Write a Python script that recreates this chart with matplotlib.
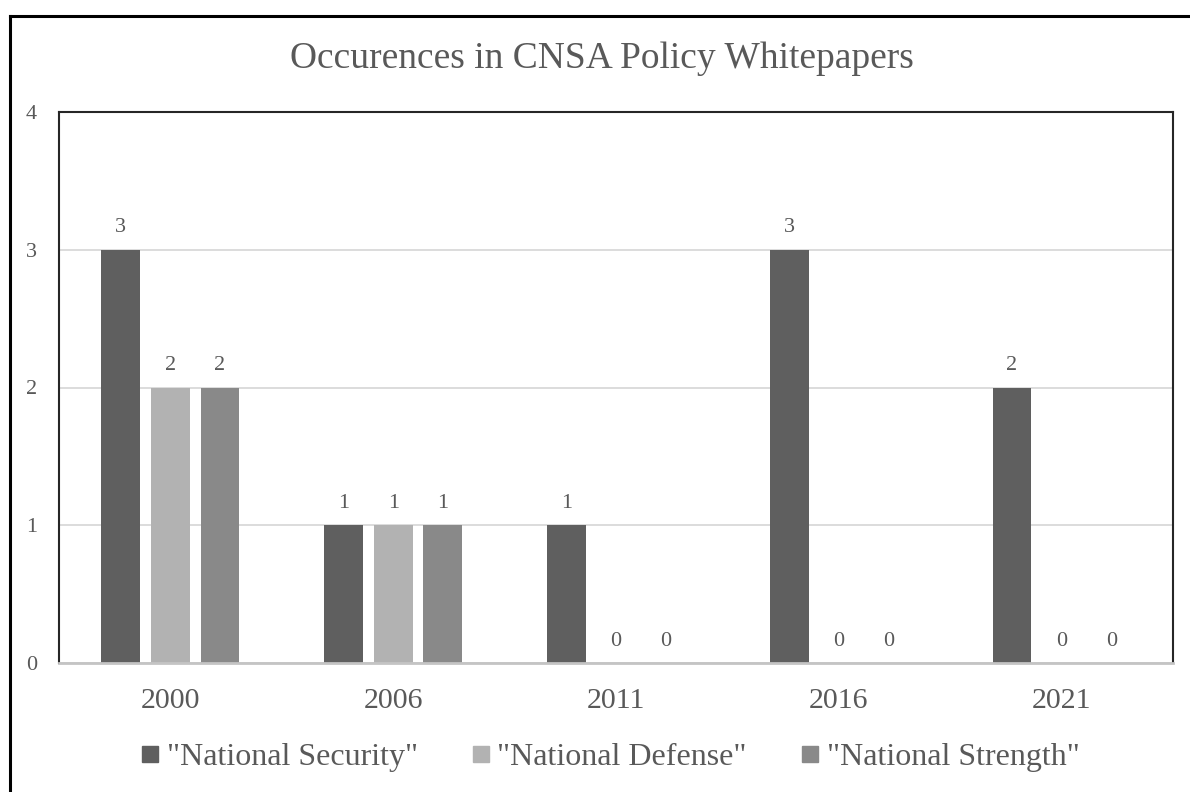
import numpy as np
import matplotlib
matplotlib.use("Agg")
import matplotlib.pyplot as plt
from matplotlib.lines import Line2D

years = ["2000", "2006", "2011", "2016", "2021"]
series_names = ['"National Security"', '"National Defense"', '"National Strength"']
security = [3, 1, 1, 3, 2]
defense = [2, 1, 0, 0, 0]
strength = [2, 1, 0, 0, 0]
colors = ["#5f5f5f", "#b2b2b2", "#898989"]

plt.rcParams["font.family"] = ["Liberation Serif", "DejaVu Serif"]
txt = "#595959"

fig = plt.figure(figsize=(11.9, 7.92), dpi=100)
ax = fig.add_axes([59 / 1190, 1 - 663 / 792, (1173 - 59) / 1190, (663 - 112) / 792])

x = np.arange(len(years))
w = 0.175
step = 0.2226
for k, vals in enumerate([security, defense, strength]):
    bars = ax.bar(x + (k - 1) * step, vals, w, color=colors[k], zorder=3)
    ax.bar_label(bars, padding=9, fontsize=16, color=txt)

ax.set_xlim(-0.5, len(years) - 0.5)
ax.set_ylim(0, 4)
ax.set_yticks([0, 1, 2, 3, 4])
ax.set_xticks(x)
ax.set_xticklabels(years)
ax.tick_params(axis="x", length=0, pad=18, labelsize=21.5, labelcolor=txt)
ax.tick_params(axis="y", length=0, pad=16, labelsize=16, labelcolor=txt)
ax.grid(axis="y", color="#d9d9d9", lw=1.3, zorder=0)
for s in ["top", "left", "right"]:
    ax.spines[s].set_color("#262626")
    ax.spines[s].set_linewidth(1.5)
ax.spines["bottom"].set_color("#c4c4c4")
ax.spines["bottom"].set_linewidth(2)
ax.spines["bottom"].set_zorder(4)

fig.text(602 / 1190, 1 - 59 / 792, "Occurences in CNSA Policy Whitepapers",
         ha="center", va="center", fontsize=27, color=txt)

handles = [Line2D([], [], marker="s", ls="", ms=12, color=c) for c in colors]
fig.legend(handles, series_names, loc="center", bbox_to_anchor=(610 / 1190, 1 - 757 / 792),
           ncol=3, frameon=False, fontsize=23, labelcolor=txt, handlelength=0.6,
           handletextpad=0.22, columnspacing=1.67)

# outer chart border (cropped on right and bottom)
fig.add_artist(Line2D([10 / 1190, 10 / 1190], [0, 1 - 16 / 792], color="black", lw=2.2))
fig.add_artist(Line2D([10 / 1190, 1], [1 - 16 / 792, 1 - 16 / 792], color="black", lw=2.2))

fig.savefig("out.png", dpi=100)
